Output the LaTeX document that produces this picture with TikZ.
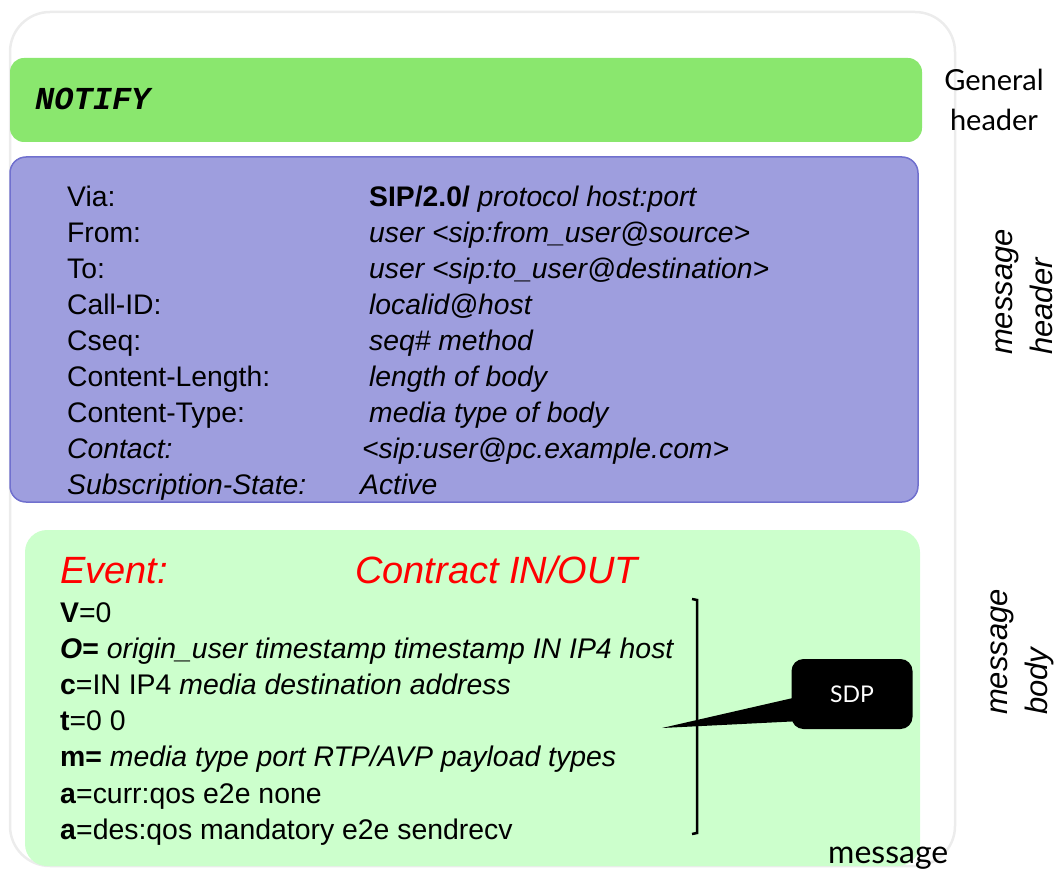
\documentclass[tikz,border=0pt]{standalone}
\usepackage{fontspec}
\setmainfont{Liberation Sans}
\newfontfamily\gillfont{Lato}
\newfontfamily\courfont{Liberation Mono}
\usepackage{tikz}
\usetikzlibrary{positioning}
\definecolor{notifygreen}{RGB}{138,231,110}
\definecolor{hdrblue}{RGB}{158,158,222}
\definecolor{hdrblueline}{RGB}{112,112,206}
\definecolor{bodygreen}{RGB}{204,255,204}
\definecolor{framegray}{RGB}{236,236,236}

\begin{document}
\begin{tikzpicture}[x=1pt, y=-1pt,
    hdrtxt/.style={anchor=base west, inner sep=0pt, font=\fontsize{28.3}{34}\selectfont},
    bodytxt/.style={anchor=base west, inner sep=0pt, font=\fontsize{28.4}{35}\selectfont},
    sidelbl/.style={align=center, inner sep=0pt, font=\gillfont\fontsize{29}{40}\selectfont},
    rotlbl/.style={rotate=90, align=left, inner sep=0pt, font=\fontsize{31}{40}\selectfont\itshape}]
    \useasboundingbox (0,0) rectangle (1062,869);

    % Moldura da mensagem
    \draw[framegray, line width=2.5pt, rounded corners=40pt] (10,12) rectangle (955,866);

    % Faixas
    \fill[notifygreen, rounded corners=14pt] (10,58) rectangle (922,142);
    \draw[hdrblueline, fill=hdrblue, line width=1.5pt, rounded corners=16pt] (10,157) rectangle (918,502);
    \fill[bodygreen, rounded corners=22pt] (25,530) rectangle (920,866);

    % Linha de requisicao
    \node[anchor=base west, inner sep=0pt, font=\courfont\bfseries\itshape\fontsize{32}{36}\selectfont] (notify) at (35,110) {NOTIFY};

    % Cabecalhos
    \foreach \n/\key in {0/Via:, 1/From:, 2/To:, 3/Call-ID:, 4/Cseq:, 5/Content-Length:, 6/Content-Type:, 7/\textit{Contact:}, 8/\textit{Subscription-State:}} {
        \node[hdrtxt] (key\n) at (67,{206+36*\n}) {\key};
    }
    \foreach \n/\xv/\val in {0/369/{\textbf{SIP/2.0/} \textit{protocol host:port}},
                             1/369/{\textit{user <sip:from\_user@source>}},
                             2/369/{\textit{user <sip:to\_user@destination>}},
                             3/369/{\textit{localid@host}},
                             4/369/{\textit{seq\# method}},
                             5/369/{\textit{length of body}},
                             6/369/{\textit{media type of body}},
                             7/362/{\textit{<sip:user@pc.example.com>}},
                             8/360/{\textit{Active}}} {
        \node[hdrtxt] (val\n) at (\xv,{206+36*\n}) {\val};
    }

    % Corpo (SDP)
    \node[anchor=base west, inner sep=0pt, red, font=\fontsize{38}{42}\selectfont\itshape] (event) at (60,583) {Event:};
    \node[anchor=base west, inner sep=0pt, red, font=\fontsize{38}{42}\selectfont\itshape] (contract) at (355,583) {Contract IN/OUT};
    \foreach \n/\txt in {0/{\textbf{V}=0},
                         1/{\textbf{\textit{O}=} \textit{origin\_user timestamp timestamp IN IP4 host}},
                         2/{\textbf{c}=IN IP4 \textit{media destination address}},
                         3/{\textbf{t}=0 0},
                         4/{\textbf{m=} \textit{media type port RTP/AVP payload types}},
                         5/{\textbf{a}=curr:qos e2e none},
                         6/{\textbf{a}=des:qos mandatory e2e sendrecv}} {
        \node[bodytxt] (sdp\n) at (60,{622+36.2*\n}) {\txt};
    }

    % Chave e balao
    \draw[line width=2.5pt] (692,599) -- (697,600) -- (697,833) -- (692,834);
    \node[fill=black, text=white, rounded corners=12pt, minimum width=121pt, minimum height=70pt,
          font=\gillfont\fontsize{23}{26}\selectfont] (sdpbox) at (852,694) {SDP};
    \coordinate (tip) at (662,728);
    \fill ([xshift=6pt, yshift=-3pt]sdpbox.west) -- (tip) -- ([xshift=10pt, yshift=-27pt]sdpbox.west) -- cycle;

    % Rotulos laterais
    \node[sidelbl] (general) at (994,100) {General\\header};
    \node[rotlbl] (msghdr) at (1024,292) {message\\header};
    \node[rotlbl] (msgbody) at (1022,652) {message\\body};
    \node[anchor=base west, inner sep=0pt, font=\gillfont\fontsize{32}{36}\selectfont] (message) at (828,863) {message};
\end{tikzpicture}
\end{document}
